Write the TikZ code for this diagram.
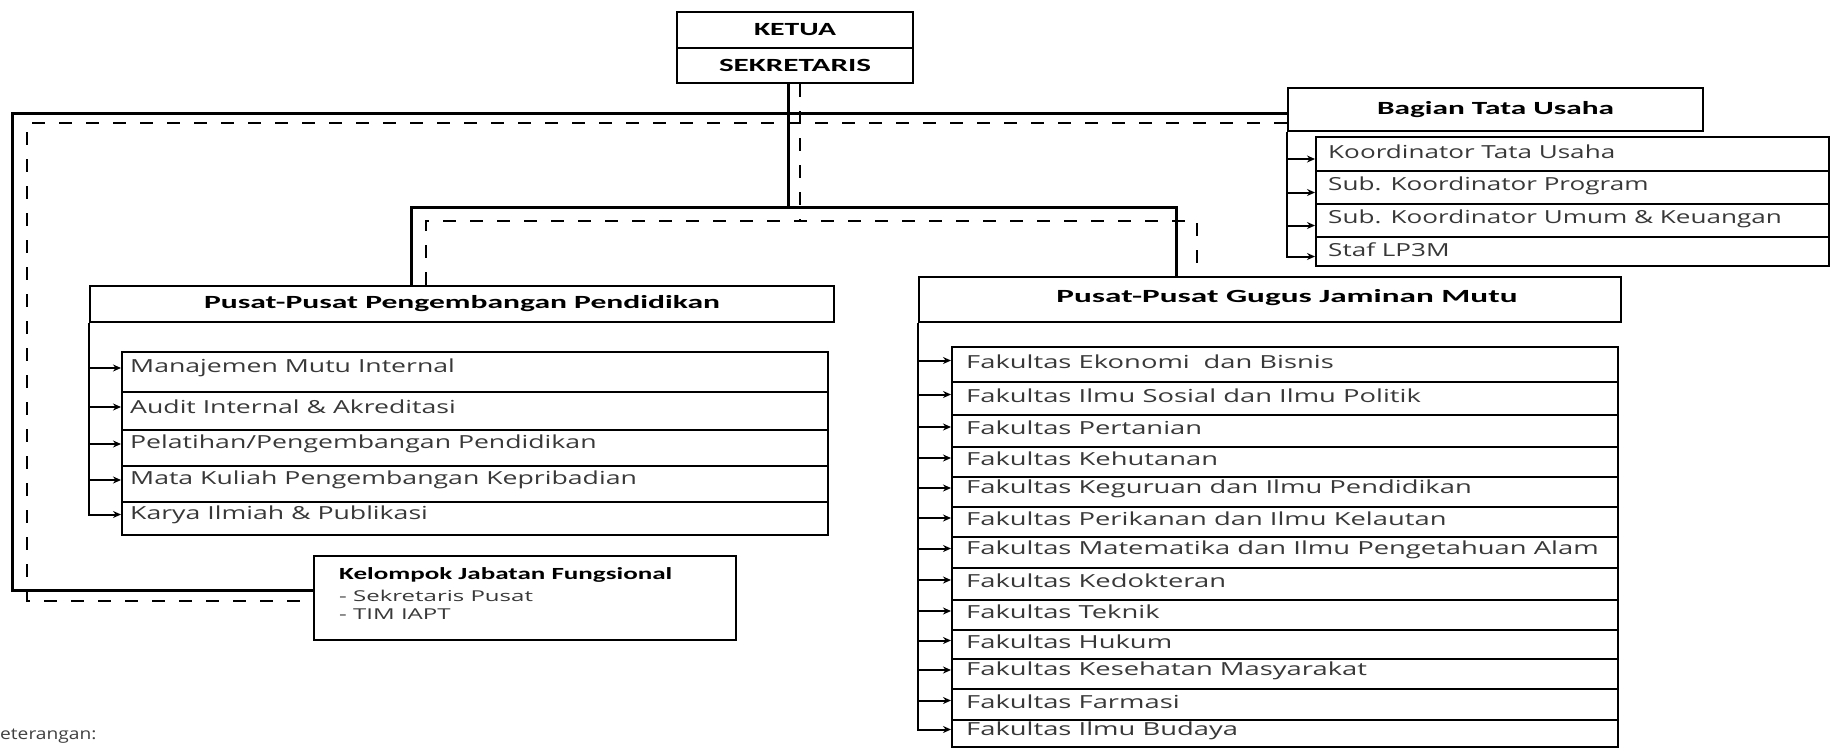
\documentclass[tikz,border=0pt]{standalone}
\usepackage{fontspec}
\setmainfont{Open Sans}
\newfontfamily\titlefont{Carlito}
\usepackage{graphicx}
\usetikzlibrary{arrows.meta,calc}

\newcommand\ttl[2]{{\titlefont\bfseries\fontsize{18.6}{22}\selectfont\resizebox{#1pt}{\height}{#2}}}
\newcommand\itm[2][1.52]{{\fontsize{18}{22}\selectfont\scalebox{#1}[1]{#2}}}

\tikzset{
  box/.style={draw, line width=2.5pt, rectangle, inner sep=0pt},
  row/.style={draw, line width=2pt, rectangle, inner sep=0pt},
  conn/.style={line width=3pt},
  dconn/.style={line width=2.4pt, dash pattern=on 13pt off 14pt},
  arr/.style={line width=2pt, -{Stealth[length=8pt,width=7pt]}},
  itxt/.style={anchor=west, inner sep=0pt, text=black!78},
}

\begin{document}
\begin{tikzpicture}[x=1pt,y=-1pt]
\useasboundingbox (0,0) rectangle (1831,748);

% top boxes
\node[box, minimum width=236pt, minimum height=36pt] (ketua) at (795,30) {\ttl{82}{KETUA}};
\node[box, minimum width=236pt, minimum height=35pt] (sekr) at (795,65.5) {\ttl{152}{SEKRETARIS}};
\node[box, minimum width=415pt, minimum height=43pt] (bagian) at (1495.5,109.5) {\ttl{237}{Bagian Tata Usaha}};
\node[box, minimum width=744pt, minimum height=36pt] (ppp) at (462,304) {\ttl{516}{Pusat-Pusat Pengembangan Pendidikan}};
\node[box, minimum width=702pt, minimum height=45pt] (pgm) at (1270,299.5) {};
\node[inner sep=0pt] (pgmt) at (1287,298) {\ttl{461}{Pusat-Pusat Gugus Jaminan Mutu}};
\node[box, minimum width=422pt, minimum height=84pt] (kjf) at (525,598) {};
\node[anchor=west, inner sep=0pt] (kjft) at (339,575) {{\titlefont\bfseries\fontsize{17}{20}\selectfont\resizebox{333pt}{\height}{Kelompok Jabatan Fungsional}}};
\node[itxt] (kjf1) at (339,596) {{\fontsize{15}{17}\selectfont\scalebox{1.6}[1]{- Sekretaris Pusat}}};
\node[itxt] (kjf2) at (339,614) {{\fontsize{15}{17}\selectfont\scalebox{1.6}[1]{- TIM IAPT}}};

% Bagian Tata Usaha list
\foreach \t/\b/\n/\txt in {137/171/1/{Koordinator Tata Usaha},171/204/2/{Sub. Koordinator Program},204/237/3/{Sub. Koordinator Umum \& Keuangan},237/266/4/{Staf LP3M}}{
  \node[row, minimum width=513pt, minimum height={(\b-\t)*1pt}] (bt\n) at (1572.5,{(\t+\b)/2}) {};
  \node[itxt] (btt\n) at ([xshift=13pt,yshift=2pt]bt\n.west) {\itm[1.45]{\txt}};
  \coordinate (ba\n) at ([yshift=-5pt]bt\n.west);
}
\draw[arr] (bagian.south west) |- (ba4);
\foreach \n in {1,2,3}{\draw[arr] (bagian.south west |- ba\n) -- (ba\n);}

% Pusat Pengembangan list
\foreach \t/\b/\n/\txt in {352/392/1/{Manajemen Mutu Internal},392/430/2/{Audit Internal \& Akreditasi},430/466/3/{Pelatihan/Pengembangan Pendidikan},466/502/4/{Mata Kuliah Pengembangan Kepribadian},502/535/5/{Karya Ilmiah \& Publikasi}}{
  \node[row, minimum width=706pt, minimum height={(\b-\t)*1pt}] (pp\n) at (475,{(\t+\b)/2}) {};
  \node[itxt] (ppt\n) at ([xshift=9pt,yshift=4pt]pp\n.west) {\itm[1.48]{\txt}};
  \coordinate (pa\n) at ([yshift=4pt]pp\n.west);
}
\draw[arr] (ppp.south west) |- (pa5);
\foreach \n in {1,2,3,4}{\draw[arr] (ppp.south west |- pa\n) -- (pa\n);}

% Pusat Gugus list
\foreach \t/\b/\n/\txt in {347/382/1/{Fakultas Ekonomi\enspace dan Bisnis},382/415/2/{Fakultas Ilmu Sosial dan Ilmu Politik},415/447/3/{Fakultas Pertanian},447/477/4/{Fakultas Kehutanan},477/507/5/{Fakultas Keguruan dan Ilmu Pendidikan},507/537/6/{Fakultas Perikanan dan Ilmu Kelautan},537/568/7/{Fakultas Matematika dan Ilmu Pengetahuan Alam},568/600/8/{Fakultas Kedokteran},600/630/9/{Fakultas Teknik},630/659/10/{Fakultas Hukum},659/689/11/{Fakultas Kesehatan Masyarakat},689/720/12/{Fakultas Farmasi},720/747/13/{Fakultas Ilmu Budaya}}{
  \node[row, minimum width=666pt, minimum height={(\b-\t)*1pt}] (gm\n) at (1285,{(\t+\b)/2}) {};
  \node[itxt] (gmt\n) at ([xshift=15pt,yshift=3pt]gm\n.west) {\itm{\txt}};
  \coordinate (ga\n) at ([yshift=4pt]gm\n.west);
}
\draw[arr] (pgm.south west) |- (ga13);
\foreach \n in {1,...,12}{\draw[arr] (pgm.south west |- ga\n) -- (ga\n);}

% connectors
\coordinate (tl) at (12,113);
\coordinate (bl) at (12,590);
\coordinate (dtl) at (27,123);
\coordinate (dbl) at (27,601);
\coordinate (hub) at (788,207);
\coordinate (dhub) at (800,221);
\coordinate (il) at (411,207);
\coordinate (ir) at (1176,207);
\coordinate (dil) at (426,221);
\coordinate (dir) at (1197,221);

\draw[conn] (bagian.west |- tl) -- (tl) -- (bl) -- (kjf.west |- bl);
\draw[conn] (sekr.south -| hub) -- (hub);
\draw[conn] (ppp.north -| il) -- (il) -- (ir) -- (pgm.north -| ir);
\draw[dconn] (bagian.west |- dtl) -- (dtl) -- (dbl) -- (kjf.west |- dbl);
\draw[dconn] (sekr.south -| dhub) -- (dhub);
\draw[dconn] (ppp.north -| dil) -- (dil) -- (dir) -- (pgm.north -| dir);

\node[anchor=west, inner sep=0pt, text=black!75] (ket) at (0,736) {{\fontsize{16}{18}\selectfont\scalebox{1.2}[1]{eterangan:}}};
\end{tikzpicture}
\end{document}
